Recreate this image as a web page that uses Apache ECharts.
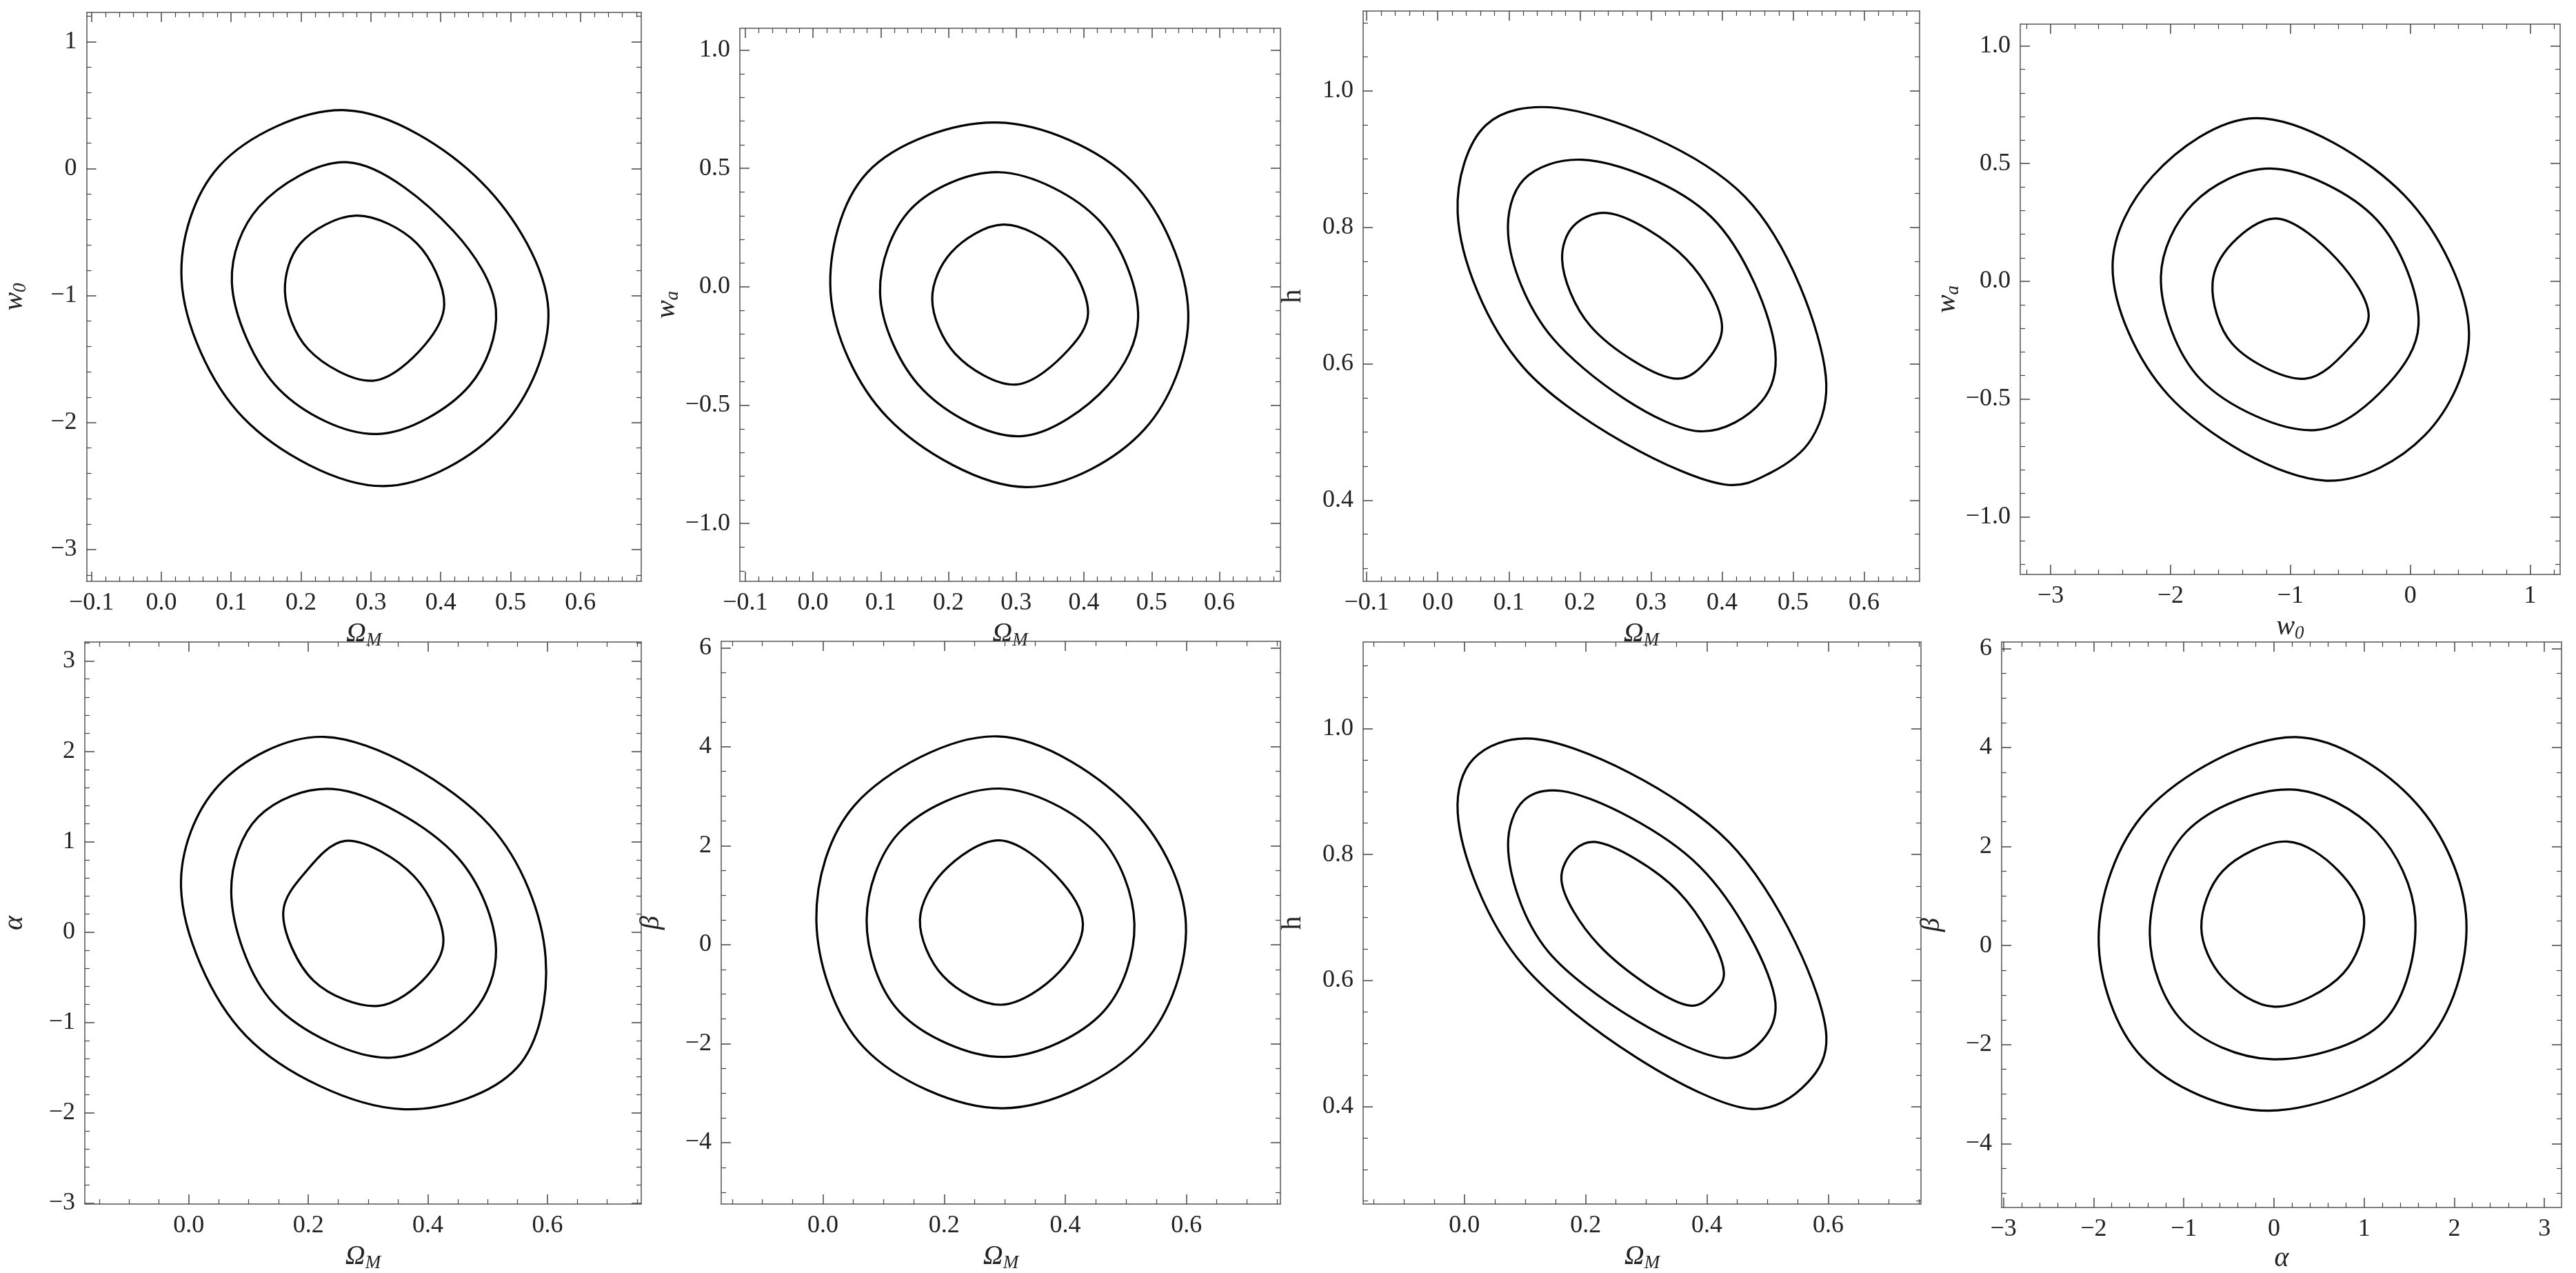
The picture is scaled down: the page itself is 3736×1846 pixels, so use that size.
<!DOCTYPE html>
<html><head><meta charset="utf-8">
<script src="https://cdn.jsdelivr.net/npm/echarts@6/dist/echarts.min.js"></script>
<style>html,body{margin:0;padding:0;background:#fff}#c{width:3736px;height:1846px}</style>
</head><body><div id="c"></div>
<script>
// ---- contour data ----
const p1_outer=[[0.264,0.46],[0.459,-0.11],[0.554,-1.11],[0.488,-2.03],[0.318,-2.50],[0.117,-1.96],[0.029,-0.87],[0.083,0.02]];
const p1_mid=[[0.267,0.05],[0.418,-0.49],[0.479,-1.11],[0.441,-1.71],[0.309,-2.09],[0.169,-1.74],[0.101,-0.89],[0.140,-0.30]];
const p1_in=[[0.279,-0.37],[0.366,-0.59],[0.405,-1.07],[0.377,-1.39],[0.303,-1.67],[0.210,-1.42],[0.177,-0.97],[0.199,-0.59]];

const p2_outer=[[0.272,0.694],[0.470,0.448],[0.554,-0.113],[0.489,-0.603],[0.315,-0.846],[0.110,-0.552],[0.026,-0.025],[0.080,0.482]];
const p2_mid=[[0.275,0.484],[0.423,0.278],[0.480,-0.131],[0.435,-0.417],[0.306,-0.631],[0.162,-0.434],[0.099,-0.025],[0.145,0.33]];
const p2_in=[[0.281,0.263],[0.365,0.145],[0.406,-0.113],[0.377,-0.266],[0.299,-0.413],[0.210,-0.283],[0.176,-0.051],[0.204,0.145]];

const p3_outer=[[0.168,0.975],[0.432,0.845],[0.546,0.582],[0.526,0.490],[0.468,0.44],[0.403,0.423],[0.121,0.594],[0.028,0.821],[0.068,0.950]];
const p3_mid=[[0.203,0.899],[0.385,0.815],[0.475,0.618],[0.456,0.545],[0.368,0.501],[0.162,0.637],[0.099,0.790],[0.121,0.870]];
const p3_in=[[0.238,0.821],[0.350,0.753],[0.400,0.655],[0.379,0.605],[0.338,0.578],[0.215,0.655],[0.175,0.753],[0.191,0.802]];

const p4_outer=[[-1.292,0.693],[-0.047,0.364],[0.49,-0.219],[0.12,-0.654],[-0.701,-0.846],[-2.014,-0.485],[-2.483,0.064],[-2.146,0.448]];
const p4_mid=[[-1.17,0.479],[-0.28,0.262],[0.069,-0.184],[-0.18,-0.434],[-0.788,-0.631],[-1.747,-0.417],[-2.08,0.019],[-1.813,0.329]];
const p4_in=[[-1.118,0.267],[-0.61,0.093],[-0.347,-0.148],[-0.51,-0.283],[-0.875,-0.413],[-1.485,-0.265],[-1.649,-0.007],[-1.485,0.162]];

const p5_outer=[[0.227,2.16],[0.503,1.184],[0.597,-0.284],[0.549,-1.502],[0.356,-1.959],[0.096,-1.15],[-0.013,0.495],[0.05,1.624]];
const p5_mid=[[0.241,1.583],[0.449,0.832],[0.514,-0.193],[0.476,-0.886],[0.338,-1.39],[0.143,-0.798],[0.071,0.45],[0.116,1.272]];
const p5_in=[[0.262,1.009],[0.377,0.617],[0.426,-0.101],[0.397,-0.496],[0.317,-0.817],[0.209,-0.54],[0.158,0.22],[0.195,0.662]];

const p6_outer=[[0.288,4.21],[0.515,2.68],[0.599,0.418],[0.529,-1.99],[0.298,-3.305],[0.067,-2.07],[-0.011,0.502],[0.053,2.83]];
const p6_mid=[[0.291,3.155],[0.456,2.19],[0.514,0.418],[0.463,-1.35],[0.298,-2.268],[0.126,-1.35],[0.072,0.502],[0.126,2.27]];
const p6_in=[[0.291,2.109],[0.385,1.39],[0.429,0.418],[0.39,-0.55],[0.294,-1.213],[0.198,-0.63],[0.16,0.502],[0.198,1.47]];

const p7_outer=[[0.112,0.984],[0.436,0.82],[0.597,0.511],[0.567,0.439],[0.474,0.396],[0.098,0.623],[-0.011,0.866],[0.015,0.952]];
const p7_mid=[[0.16,0.901],[0.388,0.781],[0.513,0.564],[0.491,0.505],[0.429,0.477],[0.139,0.645],[0.072,0.814],[0.098,0.886]];
const p7_in=[[0.215,0.82],[0.353,0.741],[0.428,0.61],[0.408,0.577],[0.374,0.56],[0.222,0.656],[0.16,0.761],[0.181,0.807]];

const p8_outer=[[0.242,4.21],[1.575,2.88],[2.135,0.487],[1.665,-2.015],[-0.06,-3.336],[-1.46,-2.26],[-1.944,0.151],[-1.415,2.72]];
const p8_mid=[[0.195,3.151],[1.14,2.3],[1.567,0.571],[1.218,-1.53],[-0.037,-2.294],[-1.013,-1.53],[-1.377,0.235],[-0.97,2.3]];
const p8_in=[[0.149,2.101],[0.71,1.52],[1.0,0.571],[0.77,-0.56],[0.009,-1.235],[-0.57,-0.645],[-0.805,0.361],[-0.57,1.5]];

// ---- tick labels ----
const omTicks7=[-0.1,0,0.1,0.2,0.3,0.4,0.5,0.6];
const omTicks4=[0,0.2,0.4,0.6];
const w0Ticks=[-3,-2,-1,0,1];
const waTicks=[-1,-0.5,0,0.5,1];
const hTicks=[0.4,0.6,0.8,1.0];
const alphaYTicks=[-3,-2,-1,0,1,2,3];
const betaTicks=[-4,-2,0,2,4,6];
const alphaXTicks=[-3,-2,-1,0,1,2,3];

// ---- layout ----
const OM='{i|Ω}{s|M}';
const panels=[
 {g:[123,18,807,825],xr:[-0.107,0.687],yr:[-3.25,1.23],xt:omTicks7,yt:w0Ticks,xm:0.02,ym:0.2,xd:1,yd:0,xn:OM,yn:'{i|w}{s|0}',c:[p1_outer,p1_mid,p1_in]},
 {g:[1073,41,784,802],xr:[-0.108,0.690],yr:[-1.244,1.092],xt:omTicks7,yt:waTicks,xm:0.02,ym:0.1,xd:1,yd:1,xn:OM,yn:'{i|w}{s|a}',c:[p2_outer,p2_mid,p2_in]},
 {g:[1977,16,807,827],xr:[-0.105,0.678],yr:[0.281,1.117],xt:omTicks7,yt:hTicks,xm:0.02,ym:0.05,xd:1,yd:1,xn:OM,yn:'{r|h}',c:[p3_outer,p3_mid,p3_in]},
 {g:[2930,35,783,798],xr:[-3.253,1.25],yr:[-1.244,1.092],xt:w0Ticks,yt:waTicks,xm:0.2,ym:0.1,xd:0,yd:1,xn:'{i|w}{s|0}',yn:'{i|w}{s|a}',c:[p4_outer,p4_mid,p4_in]},
 {g:[116,931,814,823],xr:[-0.174,0.757],yr:[-3.01,3.21],xt:omTicks4,yt:alphaYTicks,xm:0.05,ym:0.2,xd:1,yd:0,xn:OM,yn:'{i|α}',c:[p5_outer,p5_mid,p5_in]},
 {g:[1046,930,811,824],xr:[-0.168,0.755],yr:[-5.24,6.13],xt:omTicks4,yt:betaTicks,xm:0.05,ym:0.5,xd:1,yd:0,xn:OM,yn:'{i|β}',c:[p6_outer,p6_mid,p6_in]},
 {g:[1977,931,809,823],xr:[-0.167,0.753],yr:[0.245,1.1375],xt:omTicks4,yt:hTicks,xm:0.05,ym:0.05,xd:1,yd:1,xn:OM,yn:'{r|h}',c:[p7_outer,p7_mid,p7_in]},
 {g:[2903,931,812,823],xr:[-3.02,3.19],yr:[-5.29,6.13],xt:alphaXTicks,yt:betaTicks,xm:0.2,ym:0.5,xd:0,yd:0,xn:'{i|α}',yn:'{i|β}',c:[p8_outer,p8_mid,p8_in]}
];
const FONT="'Liberation Serif', 'DejaVu Serif', serif";
const rich={i:{fontFamily:FONT,fontStyle:'italic',fontSize:40,color:'#222'},s:{fontFamily:FONT,fontStyle:'italic',fontSize:27,color:'#222',verticalAlign:'bottom',padding:[18,0,0,0]},r:{fontFamily:FONT,fontSize:40,color:'#222'}};
function minors(r,step,majors){const out=[];const s=Math.ceil(r[0]/step-1e-9);for(let k=s;k*step<=r[1]+1e-9;k++){const v=+(k*step).toFixed(6);if(!majors.some(m=>Math.abs(m-v)<step/10))out.push(v);}return out;}
function fmt(d){return v=>{const s=(+v).toFixed(d);return s.charAt(0)==='-'?'\u2212'+s.slice(1):s;};}
// closed centripetal Catmull-Rom path through pixel points
function closedPath(P){
  const n=P.length;let d='M'+P[0][0]+' '+P[0][1];
  const dist=(a,b)=>Math.max(1e-6,Math.sqrt(Math.hypot(a[0]-b[0],a[1]-b[1])));
  for(let k=0;k<n;k++){
    const p0=P[(k-1+n)%n],p1=P[k],p2=P[(k+1)%n],p3=P[(k+2)%n];
    const d1=dist(p0,p1),d2=dist(p1,p2),d3=dist(p2,p3);
    const c1=[0,1].map(j=>(d1*d1*p2[j]-d2*d2*p0[j]+(2*d1*d1+3*d1*d2+d2*d2)*p1[j])/(3*d1*(d1+d2)));
    const c2=[0,1].map(j=>(d3*d3*p1[j]-d2*d2*p3[j]+(2*d3*d3+3*d3*d2+d2*d2)*p2[j])/(3*d3*(d3+d2)));
    d+=' C'+c1[0]+' '+c1[1]+' '+c2[0]+' '+c2[1]+' '+p2[0]+' '+p2[1];
  }
  return d+' Z';
}
const grid=[],xAxis=[],yAxis=[],series=[];
const LINE={show:true,onZero:false,lineStyle:{color:'#555',width:1.5}};
panels.forEach((p,i)=>{
  grid.push({left:p.g[0],top:p.g[1],width:p.g[2],height:p.g[3]});
  const xmin=minors(p.xr,p.xm,p.xt),ymin=minors(p.yr,p.ym,p.yt);
  const base={gridIndex:i,type:'value',splitLine:{show:false},axisLine:LINE};
  const ax=(pos,ticks,mins,r,label,d,name)=>[
    Object.assign({},base,{position:pos,min:r[0],max:r[1],
      name:name||'',nameLocation:'middle',nameGap:pos==='left'?82:54,nameTextStyle:{rich:rich},
      axisTick:{show:true,inside:true,length:14,customValues:ticks,lineStyle:{color:'#444',width:1.5}},
      axisLabel:{show:label,customValues:ticks,formatter:fmt(d),fontFamily:FONT,fontSize:36,color:'#222',margin:14}}),
    Object.assign({},base,{position:pos,min:r[0],max:r[1],axisLine:{show:false,onZero:false},
      axisTick:{show:true,inside:true,length:7,customValues:mins,lineStyle:{color:'#444',width:1.2}},
      axisLabel:{show:false,customValues:mins}})
  ];
  xAxis.push(...ax('bottom',p.xt,xmin,p.xr,true,p.xd,p.xn),...ax('top',p.xt,xmin,p.xr,false,p.xd,null));
  yAxis.push(...ax('left',p.yt,ymin,p.yr,true,p.yd,p.yn),...ax('right',p.yt,ymin,p.yr,false,p.yd,null));
  p.c.forEach(pts=>{
    series.push({type:'custom',coordinateSystem:'cartesian2d',xAxisIndex:i*4,yAxisIndex:i*4,data:pts,silent:true,
      renderItem:(params,api)=>{
        if(params.dataIndex!==0) return null;
        const P=pts.map(q=>api.coord(q));
        return {type:'path',shape:{pathData:closedPath(P)},style:{fill:null,stroke:'#000',lineWidth:3.2}};
      }});
  });
});
const ch=echarts.init(document.getElementById('c'),null,{renderer:'canvas'});
ch.setOption({backgroundColor:'#fff',animation:false,grid,xAxis,yAxis,series});
</script></body></html>
